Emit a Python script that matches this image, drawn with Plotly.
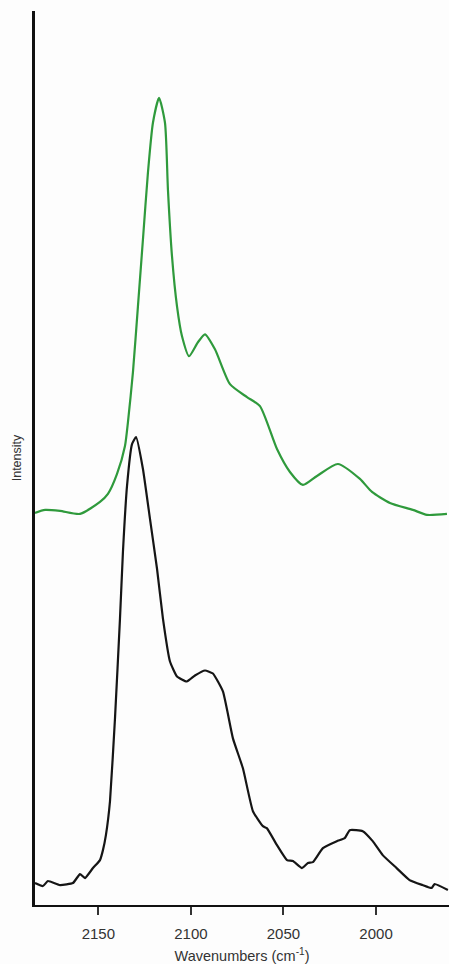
import plotly.graph_objects as go

# Wavenumbers (cm^-1) and intensities (a.u.)
green_wn = [2184.2, 2178.8, 2170.7, 2159.9, 2149.1, 2144.8, 2139.9, 2135.6, 2134.0,
            2131.3, 2128.6, 2125.9, 2123.2, 2120.5, 2117.2, 2114.0, 2112.4, 2110.2, 2107.5,
            2104.8, 2101.0, 2096.2, 2092.4, 2087.0, 2078.9, 2069.7, 2062.7, 2053.5, 2046.5,
            2039.5, 2031.9, 2020.6, 2008.7, 2002.2, 1992.5, 1980.1, 1972.5, 1961.7]
green_int = [393, 396, 395, 392, 404, 412, 432, 460, 484,
             534, 600, 667, 734, 784, 809, 784, 717, 650, 600,
             570, 550, 564, 572, 557, 522, 509, 500, 457, 434,
             421, 430, 442, 427, 414, 403, 396, 391, 392]

black_wn = [2184.2, 2179.9, 2177.2, 2170.7, 2163.7, 2159.9, 2157.2, 2152.9, 2149.1, 2147.5,
            2145.9, 2143.7, 2141.0, 2138.3, 2136.7, 2134.5, 2131.8, 2129.6, 2125.9, 2122.1,
            2118.3, 2115.1, 2111.3, 2107.5, 2102.2, 2097.8, 2092.4, 2088.1, 2082.7, 2077.3,
            2071.9, 2066.5, 2061.1, 2059.0, 2053.5, 2048.1, 2044.9, 2040.0, 2036.8, 2034.1,
            2028.7, 2021.2, 2016.9, 2014.2, 2007.2, 2001.8, 1996.4, 1988.9, 1981.9, 1974.9,
            1970.0, 1968.4, 1961.2]
black_int = [22, 19, 24, 20, 22, 31, 27, 37, 45, 55,
             70, 104, 187, 287, 354, 420, 462, 469, 437, 387,
             337, 287, 244, 229, 224, 230, 235, 232, 214, 167,
             137, 94, 79, 77, 60, 45, 44, 37, 42, 43,
             57, 64, 67, 75, 74, 64, 50, 37, 25, 20,
             17, 21, 15]

x_ticks = [2150, 2100, 2050, 2000]

fig = go.Figure()
fig.add_trace(go.Scatter(x=green_wn, y=green_int, mode="lines",
                         line=dict(color="#2f9a3c", width=2.2, shape="spline", smoothing=0.6),
                         showlegend=False, hoverinfo="skip"))
fig.add_trace(go.Scatter(x=black_wn, y=black_int, mode="lines",
                         line=dict(color="#151515", width=2.2, shape="spline", smoothing=0.4),
                         showlegend=False, hoverinfo="skip"))

fig.update_layout(
    width=449, height=964,
    margin=dict(l=35, r=0, t=11, b=57),
    paper_bgcolor="#fdfdfd", plot_bgcolor="#fdfdfd",
    font=dict(family="Liberation Sans, Arial, sans-serif", color="#333333", size=15),
    xaxis=dict(range=[2184.2, 1960.6], tickvals=x_ticks, ticktext=[str(t) for t in x_ticks],
               showgrid=False, zeroline=False, showline=True, linecolor="#111111", linewidth=2,
               ticks="outside", ticklen=8, tickwidth=1.5, tickcolor="#333333",
               ticklabelstandoff=6,
               tickfont=dict(size=15, color="#333333"),
               title=dict(text="Wavenumbers (cm<sup>-1</sup>)", font=dict(size=14.5, color="#333333"),
                          standoff=12)),
    yaxis=dict(range=[0, 896], showticklabels=False, ticks="", showgrid=False, zeroline=False,
               showline=True, linecolor="#111111", linewidth=2.5,
               title=dict(text="Intensity", font=dict(size=12.5, color="#333333"), standoff=8)),
)

fig.write_html("out.html")
